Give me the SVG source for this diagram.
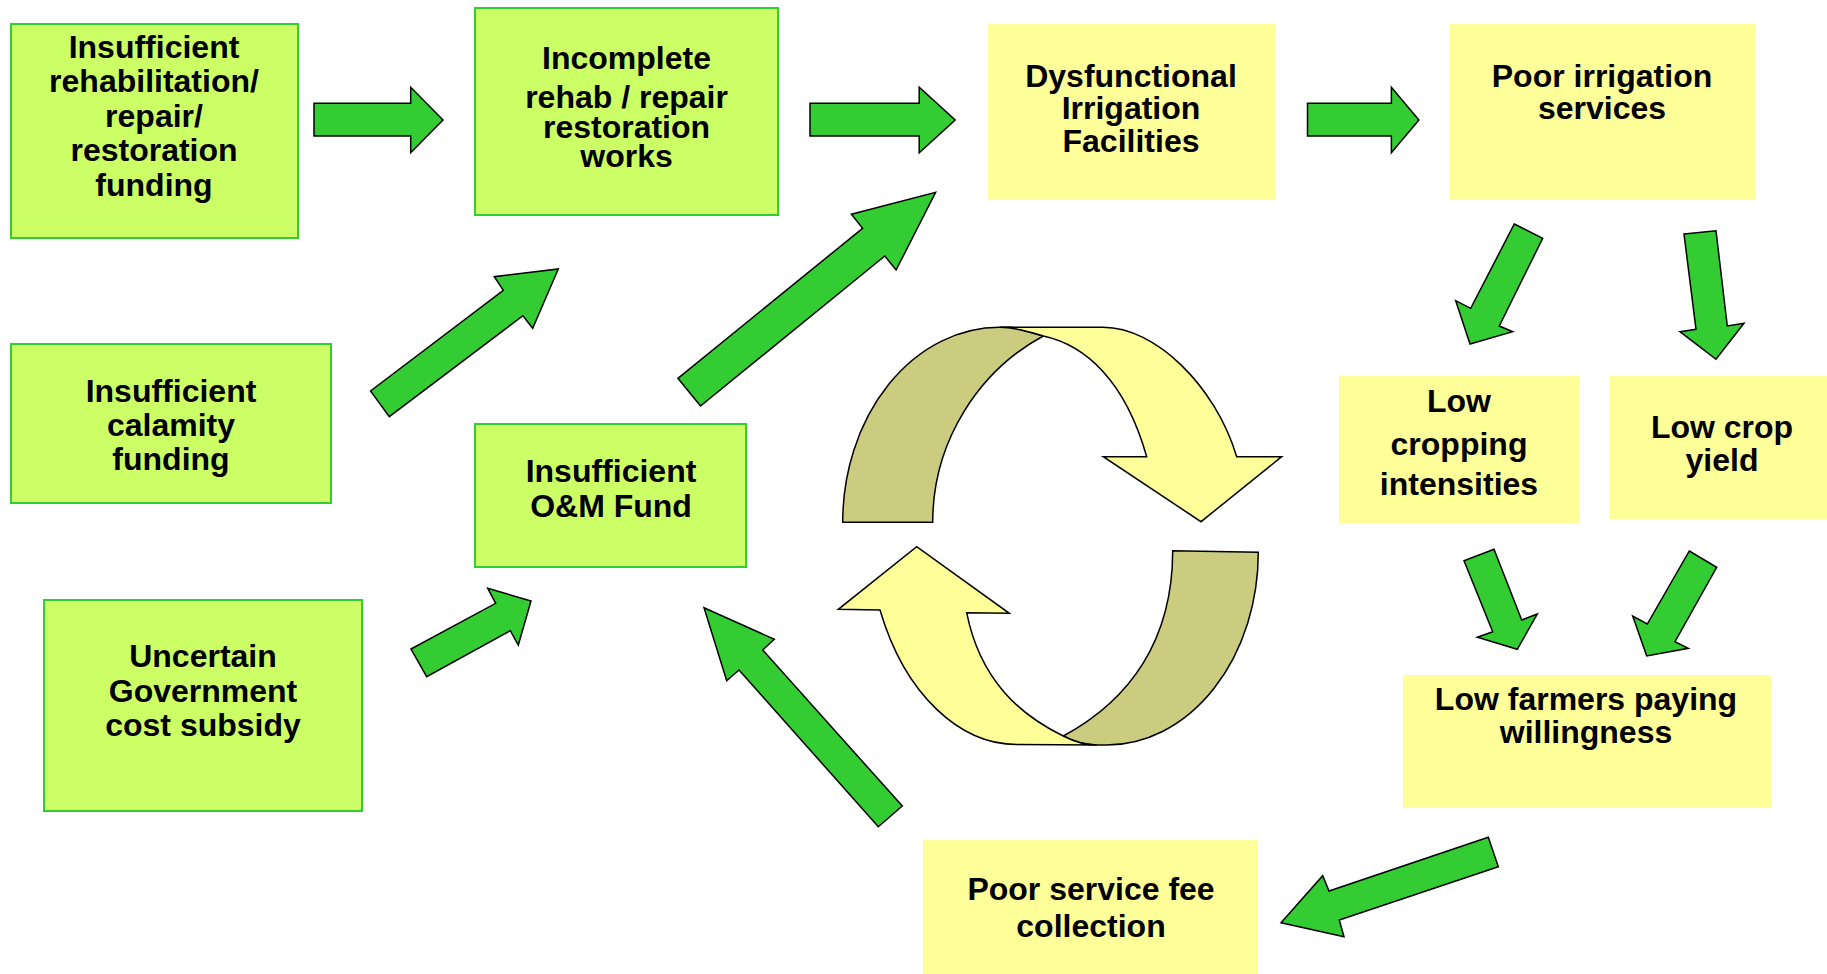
<svg xmlns="http://www.w3.org/2000/svg" width="1827" height="974" viewBox="0 0 1827 974">
<style>
.g{fill:#CCFF66;stroke:#33CC33;stroke-width:2}
.y{fill:#FFFF99}
.t{font-family:"Liberation Sans",Arial,sans-serif;font-weight:bold;font-size:32px;fill:#000;text-anchor:middle}
.a{fill:#33CC33;stroke:#000;stroke-width:1.5;stroke-linejoin:miter}
.rd{fill:#CCCC80;stroke:#000;stroke-width:1.5}
.ry{fill:#FFFF99;stroke:#000;stroke-width:1.5}
</style>
<rect width="1827" height="974" fill="#fff"/>

<g id="n-rehab-funding">
<rect class="g" x="11" y="24" width="287" height="214"/>
<text class="t" x="154" y="57.5">Insufficient</text>
<text class="t" x="154" y="92">rehabilitation/</text>
<text class="t" x="154" y="126.5">repair/</text>
<text class="t" x="154" y="161">restoration</text>
<text class="t" x="154" y="195.5">funding</text>
</g>
<g id="n-incomplete">
<rect class="g" x="475" y="8" width="303" height="207"/>
<text class="t" x="626.5" y="69">Incomplete</text>
<text class="t" x="626.5" y="108">rehab / repair</text>
<text class="t" x="626.5" y="138">restoration</text>
<text class="t" x="626.5" y="167">works</text>
</g>
<g id="n-dysfunctional">
<rect class="y" x="988" y="24" width="287" height="176"/>
<text class="t" x="1131" y="87">Dysfunctional</text>
<text class="t" x="1131" y="119">Irrigation</text>
<text class="t" x="1131" y="151.5">Facilities</text>
</g>
<g id="n-poor-irrigation">
<rect class="y" x="1450" y="24" width="305" height="176"/>
<text class="t" x="1602" y="87">Poor irrigation</text>
<text class="t" x="1602" y="119">services</text>
</g>
<g id="n-calamity">
<rect class="g" x="11" y="344" width="320" height="159"/>
<text class="t" x="171" y="402">Insufficient</text>
<text class="t" x="171" y="436">calamity</text>
<text class="t" x="171" y="470">funding</text>
</g>
<g id="n-om-fund">
<rect class="g" x="475" y="424" width="271" height="143"/>
<text class="t" x="611" y="482">Insufficient</text>
<text class="t" x="611" y="517">O&amp;M Fund</text>
</g>
<g id="n-uncertain">
<rect class="g" x="44" y="600" width="318" height="211"/>
<text class="t" x="203" y="667">Uncertain</text>
<text class="t" x="203" y="702">Government</text>
<text class="t" x="203" y="736">cost subsidy</text>
</g>
<g id="n-low-cropping">
<rect class="y" x="1339" y="376" width="240" height="147"/>
<text class="t" x="1459" y="412">Low</text>
<text class="t" x="1459" y="455">cropping</text>
<text class="t" x="1459" y="495">intensities</text>
</g>
<g id="n-low-yield">
<rect class="y" x="1610" y="376" width="217" height="143"/>
<text class="t" x="1722" y="438">Low crop</text>
<text class="t" x="1722" y="471">yield</text>
</g>
<g id="n-low-willingness">
<rect class="y" x="1403" y="675" width="368" height="133"/>
<text class="t" x="1586" y="710">Low farmers paying</text>
<text class="t" x="1586" y="743">willingness</text>
</g>
<g id="n-poor-fee">
<rect class="y" x="923" y="840" width="335" height="134"/>
<text class="t" x="1091" y="900">Poor service fee</text>
<text class="t" x="1091" y="937">collection</text>
</g>

<g id="connectors">
<polygon class="a" points="314,103.3 410.7,103.3 410.7,87.3 443,120 410.7,152.7 410.7,136 314,136"/>
<polygon class="a" points="810,103.3 919.2,103.3 919.2,87.3 955.2,120 919.2,152.7 919.2,136 810,136"/>
<polygon class="a" points="1307.5,103.3 1391.4,103.3 1391.4,87.3 1418.9,120 1391.4,152.7 1391.4,136 1307.5,136"/>
<polygon class="a" points="370.5,391 503.3,290.3 494.3,276.7 558.3,269 532.7,328.3 522.9,315.7 389.3,416.7"/>
<polygon class="a" points="677.9,378.3 862.6,228.3 851.4,214.3 935.6,192.3 896.1,270 884.8,256 700.5,406"/>
<polygon class="a" points="411,649 495.7,603.3 487.7,588.3 531,601 518.3,645 510.3,630.7 426.7,676.7"/>
<polygon class="a" points="704,607.7 774.3,639.3 762.7,650 902.3,806 878.3,826.7 739,670 726.7,680.7"/>
<polygon class="a" points="1514.3,224 1542.7,238.3 1499.3,326 1512.7,331.7 1470,344 1455.7,300.7 1470.7,308.3"/>
<polygon class="a" points="1684,234 1716,230.7 1727.3,326 1744,323.3 1716,359.3 1680,331.7 1696,329.3"/>
<polygon class="a" points="1464,560.7 1494,549.3 1521.7,620 1537.3,614 1517.3,649.3 1477.3,637.3 1492.7,631.7"/>
<polygon class="a" points="1689.3,551 1716.7,567.3 1675,641.7 1688.3,648.3 1646.7,656 1632.7,616 1647.3,624"/>
<polygon class="a" points="1488.3,837.3 1498.3,866.7 1339.3,920 1344,936.7 1281,922.7 1322.7,875.7 1329,891"/>
</g>

<g id="cycle">
<path class="rd" d="M842.7,522.3 A157,195 0 0 1 1000,327.3 L1012,327.3 L1043.3,336 C980,370 932.7,440 932.7,522.3 Z"/>
<path class="ry" d="M1000,327.3 L1103.3,327.3 C1155,327.3 1215,385 1236.7,456.7 L1281.7,456.7 L1201,521.7 L1103.3,456.7 L1146.7,456.7 C1125,380 1085,345 1043.3,336 C1030,332 1016,327.3 1000,327.3 Z"/>
<path class="rd" d="M1172.7,550.7 L1258.3,552.3 A151.6,192.7 0 0 1 1106.7,745 L1096.7,745 C1085,745 1072,741 1063.3,736 C1130,700 1172.7,640 1172.7,550.7 Z"/>
<path class="ry" d="M880,610 L838.3,609.3 L916.7,546.7 L1009.3,613.3 L966.7,612.7 C980,680 1020,715 1063.3,736 C1075,742 1085,745 1096.7,745 L1016.7,744.5 C960,744.5 905,695 880,610 Z"/>
</g>
</svg>
